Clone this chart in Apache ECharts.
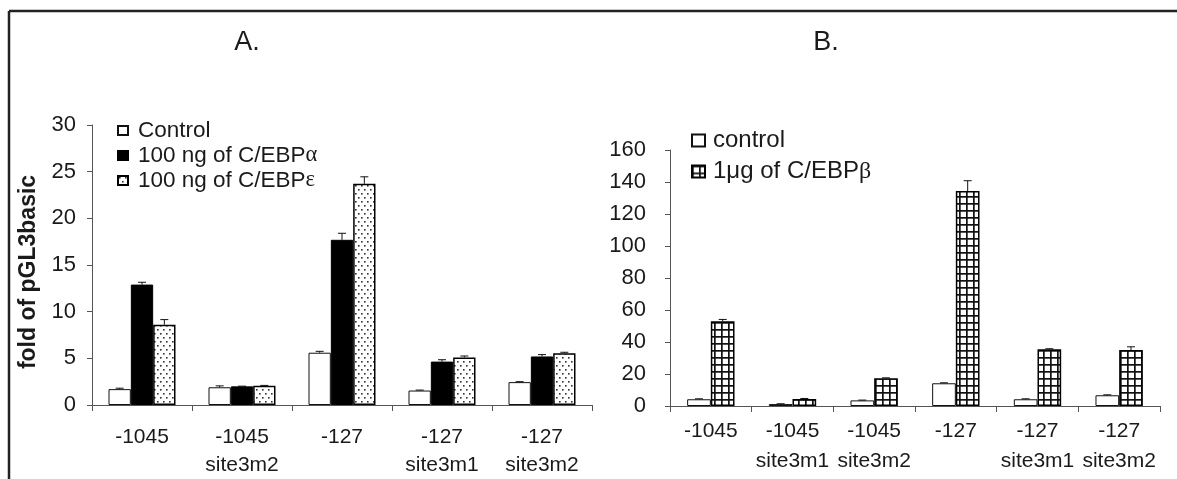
<!DOCTYPE html>
<html>
<head>
<meta charset="utf-8">
<script src="https://cdn.jsdelivr.net/npm/echarts@6/dist/echarts.min.js"></script>
<style>
html,body{margin:0;padding:0;background:#fff;}
#c{width:1177px;height:479px;}
</style>
</head>
<body>
<div id="c"></div>
<script>
// ---- Data (panel A) ----
const catsA = ['-1045', '-1045\nsite3m2', '-127', '-127\nsite3m1', '-127\nsite3m2'];
const namesA = ['Control', '100 ng of C/EBPα', '100 ng of C/EBPε'];
const controlA = [1.7, 1.9, 5.6, 1.55, 2.45];
const alphaA = [12.9, 2.0, 17.7, 4.65, 5.2];
const epsA = [8.6, 2.05, 23.7, 5.1, 5.55];
const controlAErr = [0.1, 0.15, 0.15, 0.05, 0.05];
const alphaAErr = [0.25, 0.02, 0.7, 0.2, 0.2];
const epsAErr = [0.55, 0.05, 0.75, 0.15, 0.1];

// ---- Data (panel B) ----
const catsB = ['-1045', '-1045\nsite3m1', '-1045\nsite3m2', '-127', '-127\nsite3m1', '-127\nsite3m2'];
const namesB = ['control', '1μg of C/EBPβ'];
const controlB = [4.2, 1.2, 3.5, 14.2, 4.2, 6.7];
const betaB = [53, 4.3, 17.3, 134.3, 35.4, 35];
const controlBErr = [0.3, 0.2, 0.2, 0.3, 0.3, 0.3];
const betaBErr = [1.1, 0.4, 0.3, 6.5, 0.4, 2.0];

const FONT = "'Liberation Sans', Arial, Helvetica, sans-serif";
const TXT = '#1a1a1a';

function dotPattern() {
  const c = document.createElement('canvas');
  c.width = 6; c.height = 8;
  const g = c.getContext('2d');
  g.fillStyle = '#fff'; g.fillRect(0, 0, 6, 8);
  g.fillStyle = '#333';
  g.fillRect(1, 1, 1.6, 1.6);
  g.fillRect(4, 5, 1.6, 1.6);
  return c;
}
function gridPattern() {
  const c = document.createElement('canvas');
  c.width = 7; c.height = 7;
  const g = c.getContext('2d');
  g.fillStyle = '#fff'; g.fillRect(0, 0, 7, 7);
  g.fillStyle = '#111';
  g.fillRect(0, 0, 7, 1.7);
  g.fillRect(0, 0, 1.7, 7);
  return c;
}
const dotFill = { image: dotPattern(), repeat: 'repeat' };
const gridFill = { image: gridPattern(), repeat: 'repeat' };

function errSeries(vals, errs, k, n, gap, axisIdx) {
  return {
    type: 'custom',
    xAxisIndex: axisIdx, yAxisIndex: axisIdx,
    z: 10,
    silent: true,
    data: vals.map((v, i) => [i, v, errs[i]]),
    encode: { x: 0, y: 1 },
    renderItem: function (params, api) {
      const ci = api.value(0), v = api.value(1), e = api.value(2);
      const base = api.coord([ci, v]);
      const top = api.coord([ci, v + e]);
      const band = api.size([1, 0])[0];
      const bw = band * (1 - gap) / n;
      const x = base[0] + (k - (n - 1) / 2) * bw;
      const st = { stroke: '#111', lineWidth: 1 };
      return {
        type: 'group',
        children: [
          { type: 'line', shape: { x1: x, y1: base[1], x2: x, y2: top[1] }, style: st },
          { type: 'line', shape: { x1: x - 4, y1: top[1], x2: x + 4, y2: top[1] }, style: st }
        ]
      };
    }
  };
}

const greekFmt = n => n.replace(/([αεβ])/g, '{g|$1}');

const chart = echarts.init(document.getElementById('c'), null, { renderer: 'canvas' });

const axisLine = { show: true, lineStyle: { color: '#555', width: 1 } };

const option = {
  backgroundColor: '#fff',
  animation: false,
  textStyle: { fontFamily: FONT, color: TXT },
  graphic: [
    { type: 'line', shape: { x1: 9, y1: 11, x2: 1177, y2: 11 }, style: { stroke: '#222', lineWidth: 2.5 } },
    { type: 'line', shape: { x1: 9, y1: 11, x2: 9, y2: 479 }, style: { stroke: '#222', lineWidth: 2.5 } },
    { type: 'text', x: 247, y: 43, style: { text: 'A.', fontSize: 27, fontFamily: FONT, fill: TXT, align: 'center', verticalAlign: 'middle' } },
    { type: 'text', x: 826, y: 43, style: { text: 'B.', fontSize: 27, fontFamily: FONT, fill: TXT, align: 'center', verticalAlign: 'middle' } }
  ],
  legend: [
    {
      data: namesA.map(n => ({ name: n, icon: 'rect' })),
      orient: 'vertical',
      left: 117, top: 118,
      padding: 0,
      itemWidth: 10, itemHeight: 9,
      itemGap: 0,
      selectedMode: false,
      formatter: greekFmt,
      textStyle: {
        fontSize: 22.5, lineHeight: 25, color: TXT, fontFamily: FONT, padding: [0, 0, 0, 5],
        rich: { g: { fontSize: 22.5, fontFamily: "'Liberation Serif', 'DejaVu Serif', serif", color: TXT } }
      }
    },
    {
      data: namesB.map(n => ({ name: n, icon: 'rect' })),
      orient: 'vertical',
      left: 691, top: 127,
      padding: 0,
      itemWidth: 13, itemHeight: 12,
      itemGap: 4,
      selectedMode: false,
      formatter: greekFmt,
      textStyle: {
        fontSize: 24, lineHeight: 27, color: TXT, fontFamily: FONT, padding: [0, 0, 0, 3],
        rich: { g: { fontSize: 24, fontFamily: "'Liberation Serif', 'DejaVu Serif', serif", color: TXT } }
      }
    }
  ],
  grid: [
    { left: 92, right: 585, top: 125, bottom: 74, containLabel: false },
    { left: 670, right: 17, top: 150, bottom: 73, containLabel: false }
  ],
  xAxis: [
    {
      type: 'category', gridIndex: 0, data: catsA,
      axisLine: axisLine,
      axisTick: { show: true, length: 6, lineStyle: { color: '#555' } },
      axisLabel: { fontSize: 21, lineHeight: 28, margin: 18, color: TXT, fontFamily: FONT, interval: 0 }
    },
    {
      type: 'category', gridIndex: 1, data: catsB,
      axisLine: axisLine,
      axisTick: { show: true, length: 6, lineStyle: { color: '#555' } },
      axisLabel: { fontSize: 21, lineHeight: 30, margin: 10, color: TXT, fontFamily: FONT, interval: 0 }
    }
  ],
  yAxis: [
    {
      type: 'value', gridIndex: 0, min: 0, max: 30, interval: 5,
      axisLine: axisLine,
      axisTick: { show: true, length: 5, lineStyle: { color: '#555' } },
      splitLine: { show: false },
      axisLabel: { fontSize: 22, margin: 16, color: TXT, fontFamily: FONT },
      name: 'fold of pGL3basic',
      nameLocation: 'middle',
      nameRotate: 90,
      nameGap: 52,
      nameTextStyle: { fontSize: 23, fontWeight: 'bold', color: TXT, fontFamily: FONT, padding: [0, 14, 0, 0] }
    },
    {
      type: 'value', gridIndex: 1, min: 0, max: 160, interval: 20,
      axisLine: axisLine,
      axisTick: { show: true, length: 5, lineStyle: { color: '#555' } },
      splitLine: { show: false },
      axisLabel: { fontSize: 22, margin: 24, color: TXT, fontFamily: FONT }
    }
  ],
  series: [
    {
      name: namesA[0], type: 'bar', xAxisIndex: 0, yAxisIndex: 0, data: controlA,
      barGap: 0, barCategoryGap: '33%',
      itemStyle: { color: '#fff', borderColor: '#111', borderWidth: 1 }
    },
    {
      name: namesA[1], type: 'bar', xAxisIndex: 0, yAxisIndex: 0, data: alphaA,
      barGap: 0, barCategoryGap: '33%',
      itemStyle: { color: '#000', borderColor: '#000', borderWidth: 1 }
    },
    {
      name: namesA[2], type: 'bar', xAxisIndex: 0, yAxisIndex: 0, data: epsA,
      barGap: 0, barCategoryGap: '33%',
      itemStyle: { color: dotFill, borderColor: '#000', borderWidth: 1.5 }
    },
    errSeries(controlA, controlAErr, 0, 3, 0.33, 0),
    errSeries(alphaA, alphaAErr, 1, 3, 0.33, 0),
    errSeries(epsA, epsAErr, 2, 3, 0.33, 0),
    {
      name: namesB[0], type: 'bar', xAxisIndex: 1, yAxisIndex: 1, data: controlB,
      barGap: 0, barCategoryGap: '42%',
      itemStyle: { color: '#fff', borderColor: '#111', borderWidth: 1 }
    },
    {
      name: namesB[1], type: 'bar', xAxisIndex: 1, yAxisIndex: 1, data: betaB,
      barGap: 0, barCategoryGap: '42%',
      itemStyle: { color: gridFill, borderColor: '#000', borderWidth: 1.5 }
    },
    errSeries(controlB, controlBErr, 0, 2, 0.42, 1),
    errSeries(betaB, betaBErr, 1, 2, 0.42, 1)
  ]
};
chart.setOption(option);
</script>
</body>
</html>
